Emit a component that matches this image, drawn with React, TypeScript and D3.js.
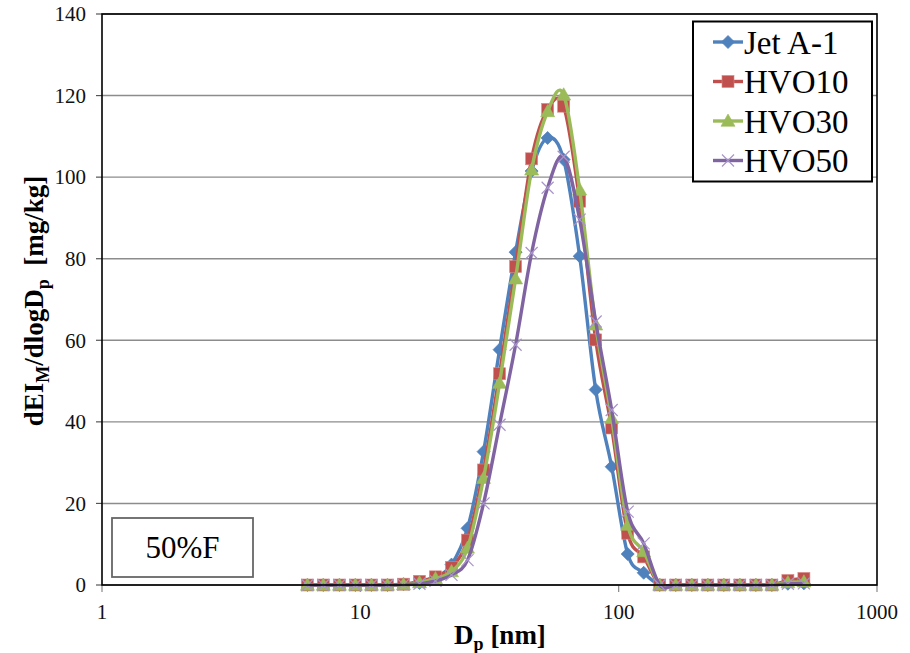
import React from "react";
import * as d3 from "d3";

// particle diameters (nm), one per size bin
const diameters = [
  6.24, 7.19, 8.3, 9.57, 11.04, 12.74, 14.69, 16.94, 19.54, 22.54, 26.0, 29.99,
  34.59, 39.9, 46.03, 53.09, 61.24, 70.63, 81.47, 93.97, 108.4, 125.0, 144.2,
  166.3, 191.9, 221.3, 255.3, 294.4, 339.6, 391.7, 451.9, 521.2,
];

const jetA1 = [
  0, 0, 0, 0, 0, 0, 0.2, 0.5, 1.8, 5.0, 13.9, 32.7, 57.7, 81.6, 101.5, 109.6,
  104.3, 80.6, 47.9, 29.0, 7.6, 3.0, 0, 0, 0, 0, 0, 0, 0, 0, 0.3, 0.4,
];
const hvo10 = [
  0, 0, 0, 0, 0, 0, 0.2, 0.9, 2.0, 4.3, 11.0, 28.2, 51.8, 78.1, 104.5, 116.6,
  117.4, 94.1, 60.1, 38.5, 12.7, 6.9, 0, 0, 0, 0, 0, 0, 0, 0, 1.1, 1.6,
];
const hvo30 = [
  0, 0, 0, 0, 0, 0, 0.1, 0.6, 1.6, 3.3, 9.1, 26.2, 49.5, 75.1, 101.8, 116.1,
  120.2, 96.9, 63.8, 40.9, 14.7, 8.2, 0, 0, 0, 0, 0, 0, 0, 0, 0.6, 0.8,
];
const hvo50 = [
  0, 0, 0, 0, 0, 0, 0.1, 0.3, 1.0, 2.5, 6.1, 20.0, 39.3, 58.9, 81.4, 97.4,
  105.0, 89.6, 64.6, 42.9, 18.0, 10.2, 0, 0, 0, 0, 0, 0, 0, 0, 0.3, 0.4,
];

const seriesNames = ["Jet A-1", "HVO10", "HVO30", "HVO50"];
const seriesValues = [jetA1, hvo10, hvo30, hvo50];
const seriesColors = ["#4F81BD", "#C0504D", "#9BBB59", "#8064A2"];
const markerKinds = ["diamond", "square", "triangle", "cross"];

const xTicks = [1, 10, 100, 1000];
const yTicks = [0, 20, 40, 60, 80, 100, 120, 140];

const W = 910;
const H = 653;
const left = 102;
const right = 877;
const top = 14;
const bottom = 585;

const font = "Liberation Serif";

const Marker = ({ kind, x, y, color }) => {
  if (kind === "diamond") {
    const s = 6.5;
    return (
      <path
        d={`M${x},${y - s}L${x + s},${y}L${x},${y + s}L${x - s},${y}Z`}
        fill={color}
        stroke={color}
        strokeWidth={0.8}
      />
    );
  }
  if (kind === "square") {
    const s = 6;
    return <rect x={x - s} y={y - s} width={2 * s} height={2 * s} fill={color} stroke="#d48a88" strokeWidth={0.6} />;
  }
  if (kind === "triangle") {
    const s = 7;
    return (
      <path
        d={`M${x},${y - s}L${x + s},${y + s * 0.75}L${x - s},${y + s * 0.75}Z`}
        fill={color}
        stroke={color}
        strokeWidth={0.6}
      />
    );
  }
  const s = 6;
  return (
    <path
      d={`M${x - s},${y - s}L${x + s},${y + s}M${x - s},${y + s}L${x + s},${y - s}`}
      stroke="#a894c8"
      strokeWidth={1.2}
      fill="none"
    />
  );
};

export default function App() {
  const x = d3.scaleLog().domain([1, 1000]).range([left, right]);
  const y = d3.scaleLinear().domain([0, 140]).range([bottom, top]);

  const line = d3
    .line<number>()
    .x((_, i) => x(diameters[i]))
    .y((d) => y(d))
    .curve(d3.curveCardinal.tension(0));

  const legendX = 693;
  const legendY = 21.5;

  return (
    <svg width={W} height={H} style={{ position: "absolute", left: 0, top: 0, background: "#fff" }}>
      {/* gridlines */}
      {yTicks.map((t) => (
        <line key={t} x1={left} x2={right} y1={y(t)} y2={y(t)} stroke="#8c8c8c" strokeWidth={1.4} />
      ))}

      {/* y ticks and labels */}
      {yTicks.map((t) => (
        <g key={"yt" + t}>
          <line x1={left - 6} x2={left} y1={y(t)} y2={y(t)} stroke="#555" strokeWidth={1.2} />
          <text x={86} y={y(t)} dy="0.35em" textAnchor="end" fontSize={21} fontFamily={font} fill="#111">
            {t}
          </text>
        </g>
      ))}

      {/* x ticks and labels */}
      {xTicks.map((t) => (
        <g key={"xt" + t}>
          <line x1={x(t)} x2={x(t)} y1={bottom} y2={bottom + 7} stroke="#888" strokeWidth={1.2} />
          <text x={x(t)} y={619} textAnchor="middle" fontSize={21} fontFamily={font} fill="#111">
            {t}
          </text>
        </g>
      ))}

      {/* series */}
      {seriesValues.map((vals, si) => (
        <g key={seriesNames[si]}>
          <path d={line(vals) || ""} fill="none" stroke={seriesColors[si]} strokeWidth={3.4} />
          {vals.map((v, i) => (
            <Marker key={i} kind={markerKinds[si]} x={x(diameters[i])} y={y(v)} color={seriesColors[si]} />
          ))}
        </g>
      ))}

      {/* plot frame */}
      <rect x={left} y={top} width={right - left} height={bottom - top} fill="none" stroke="#000" strokeWidth={1.6} />

      {/* legend */}
      <rect x={legendX} y={legendY} width={179} height={160} fill="#fff" stroke="#000" strokeWidth={2} />
      {seriesNames.map((name, i) => {
        const cy = 42 + i * 39.5;
        return (
          <g key={"lg" + name}>
            <line x1={713} x2={743} y1={cy} y2={cy} stroke={seriesColors[i]} strokeWidth={3.4} />
            <Marker kind={markerKinds[i]} x={728} y={cy} color={seriesColors[i]} />
            <text x={744} y={cy} dy="0.35em" fontSize={33} fontFamily={font} fill="#000">
              {name}
            </text>
          </g>
        );
      })}

      {/* condition label */}
      <rect x={112} y={518} width={141} height={59} fill="#fff" stroke="#666" strokeWidth={1.8} />
      <text x={182.5} y={547.5} dy="0.35em" textAnchor="middle" fontSize={31} fontFamily={font} fill="#000">
        50%F
      </text>

      {/* axis titles */}
      <text
        transform="translate(43,301) rotate(-90)"
        textAnchor="middle"
        fontSize={27}
        fontFamily={font}
        fontWeight="bold"
        style={{ whiteSpace: "pre" }}
      >
        dEI
        <tspan fontSize={18} dy={6}>M</tspan>
        <tspan dy={-6}>/dlogD</tspan>
        <tspan fontSize={18} dy={6}>p</tspan>
        <tspan dy={-6}>{"  [mg/kg]"}</tspan>
      </text>
      <text
        x={500}
        y={644}
        textAnchor="middle"
        fontSize={27}
        fontFamily={font}
        fontWeight="bold"
        style={{ whiteSpace: "pre" }}
      >
        D
        <tspan fontSize={18} dy={6}>p</tspan>
        <tspan dy={-6}>{" [nm]"}</tspan>
      </text>
    </svg>
  );
}
